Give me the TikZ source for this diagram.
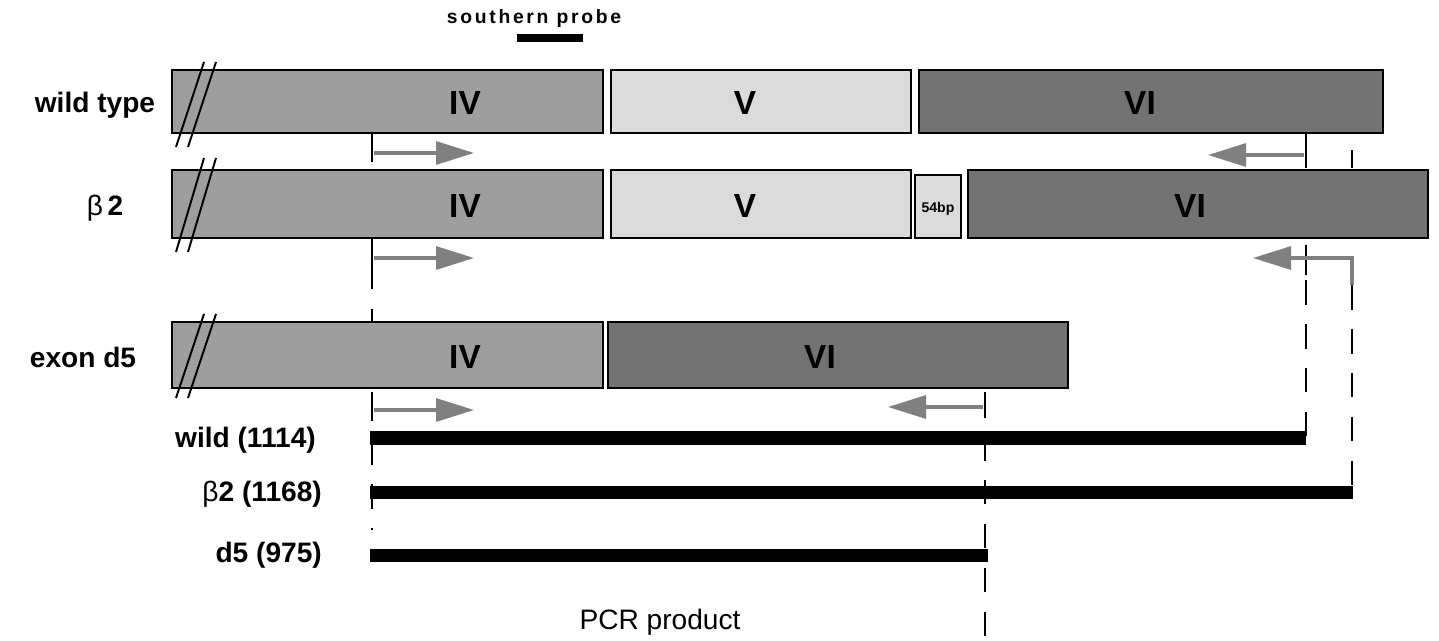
\documentclass[tikz,border=0pt]{standalone}
\usepackage{fontspec}
\setmainfont{Liberation Sans}
\newfontfamily\probefont[LetterSpace=14]{Liberation Sans}
\usetikzlibrary{arrows.meta}
\definecolor{ivgray}{gray}{0.62}
\definecolor{vgray}{gray}{0.86}
\definecolor{vigray}{gray}{0.45}
\definecolor{primergray}{gray}{0.5}
\begin{document}
\begin{tikzpicture}[x=0.02cm, y=-0.02cm]
  \useasboundingbox (0,0) rectangle (1439,641);
  \tikzstyle{exon}=[draw, line width=1.1pt, inner sep=0pt]
  \tikzstyle{exlabel}=[font=\bfseries\fontsize{19}{21}\selectfont, text=black]
  \tikzstyle{rowlabel}=[font=\bfseries\fontsize{16}{18}\selectfont]
  \tikzstyle{primer}=[primergray, line width=1.8pt, -{Triangle[length=0.76cm, width=0.46cm]}]
  \tikzstyle{tick}=[line width=1.2pt]
  \tikzstyle{guide}=[line width=1.1pt, dash pattern=on 14pt off 11pt]
  \tikzstyle{product}=[line width=7.4pt]
  \tikzstyle{cut}=[line width=1.1pt]
  % primer positions
  \coordinate (fA) at (372,133);
  \coordinate (fB) at (372,238);
  \coordinate (fC) at (372,392);
  \coordinate (rA) at (1306,133);
  \coordinate (rB) at (1306,245);
  \coordinate (rC) at (985,392);
  \coordinate (hB) at (1352,285);
  \coordinate (hA) at (1352,150);
  % guides
  \draw[guide] (fA) -- (372,530);
  \draw[guide] (1306,280) -- (1306,445);
  \draw[guide] (hB) -- (1352,492);
  \draw[guide] (rC) -- (985,636);
  % probe
  \node[font=\probefont\bfseries\fontsize{11}{12}\selectfont] (probe) at (534,19) {southern probe};
  \coordinate (pL) at (517,38);
  \coordinate (pR) at (583,38);
  \draw[line width=5pt] (pL) -- (pR);
  % wild type
  \node[rowlabel] (wt) at (95,105) {wild type};
  \node[exon, fill=ivgray, minimum width=8.62cm, minimum height=1.26cm] (wIV) at (387.5,101.5) {};
  \node[exon, fill=vgray, minimum width=6cm, minimum height=1.26cm] (wV) at (761,101.5) {};
  \node[exon, fill=vigray, minimum width=9.28cm, minimum height=1.26cm] (wVI) at (1151,101.5) {};
  \node[exlabel] (wIVt) at (465,103) {IV};
  \node[exlabel] (wVt) at (745,103) {V};
  \node[exlabel] (wVIt) at (1140,103) {VI};
  % beta 2
  \node[rowlabel] (b2) at (105,208) {\mdseries β\,\bfseries 2};
  \node[exon, fill=ivgray, minimum width=8.62cm, minimum height=1.36cm] (bIV) at (387.5,204) {};
  \node[exon, fill=vgray, minimum width=6cm, minimum height=1.36cm] (bV) at (761,204) {};
  \node[exon, fill=vgray, minimum width=0.92cm, minimum height=1.26cm] (b54) at (938,206.5) {};
  \node[exon, fill=vigray, minimum width=9.2cm, minimum height=1.36cm] (bVI) at (1198,204) {};
  \node[exlabel] (bIVt) at (465,206) {IV};
  \node[exlabel] (bVt) at (745,206) {V};
  \node[font=\bfseries\fontsize{8}{9}\selectfont] (b54t) at (938,209) {54bp};
  \node[exlabel] (bVIt) at (1190,206) {VI};
  % exon d5
  \node[rowlabel] (d5) at (83,357) {exon d5};
  \node[exon, fill=ivgray, minimum width=8.62cm, minimum height=1.32cm] (dIV) at (387.5,355) {};
  \node[exon, fill=vigray, minimum width=9.2cm, minimum height=1.32cm] (dVI) at (838,355) {};
  \node[exlabel] (dIVt) at (465,357) {IV};
  \node[exlabel] (dVIt) at (820,357) {VI};
  % breaks
  \foreach \y/\h in {62/147, 158/252, 314/398} {
    \draw[cut] (176,\h) -- (204,\y);
    \draw[cut] (188,\h) -- (216,\y);
  }
  % primers
  \draw[tick] (fA) -- (372,162);
  \draw[primer] (374,153) -- (474,153);
  \draw[tick] (fB) -- (372,265);
  \draw[primer] (374,258) -- (474,258);
  \draw[tick] (fC) -- (372,420);
  \draw[primer] (374,410) -- (474,410);
  \draw[tick] (rA) -- (1306,168);
  \draw[primer] (1304,155) -- (1208,155);
  \draw[tick] (hA) -- (1352,168);
  \draw[tick] (rB) -- (1306,275);
  \draw[primer] (hB) -- (1352,258) -- (1253,258);
  \draw[tick] (rC) -- (985,418);
  \draw[primer] (983,407) -- (888,407);
  % products
  \node[rowlabel, anchor=east] (pw) at (322,440) {wild (1114)};
  \node[rowlabel, anchor=east] (pb) at (328,494) {\mdseries β\bfseries 2 (1168)};
  \node[rowlabel, anchor=east] (pd) at (328,555) {d5 (975)};
  \draw[product] (370,438) -- (1306,438);
  \draw[product] (370,492) -- (1353,492);
  \draw[product] (370,555) -- (988,555);
  \node[font=\fontsize{16}{18}\selectfont] (pcr) at (660,622) {PCR product};
\end{tikzpicture}
\end{document}
